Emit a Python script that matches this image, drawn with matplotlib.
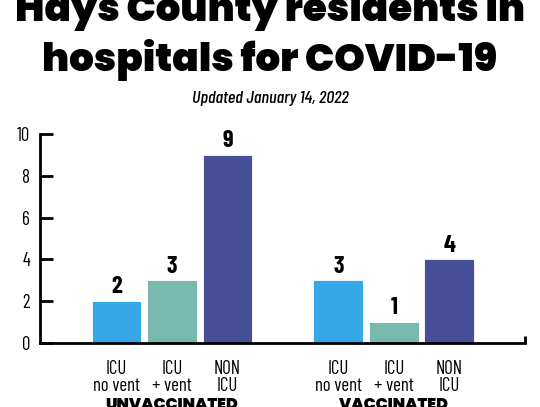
import matplotlib
matplotlib.use("Agg")
import matplotlib.pyplot as plt

# data
groups = ["UNVACCINATED", "VACCINATED"]
categories = ["ICU\nno vent", "ICU\n+ vent", "NON\nICU"]
unvaccinated = [2, 3, 9]
vaccinated = [3, 1, 4]
colors = ["#36A8E8", "#78B8AE", "#474E98"]

cond = ["Barlow Condensed", "DejaVu Sans"]
heavy = ["Poppins", "DejaVu Sans"]

fig = plt.figure(figsize=(5.4, 4.07), dpi=100)
ax = fig.add_axes([0.074, 0.157, 0.898, 0.514])

pos_u = [0, 1, 2]
pos_v = [4, 5, 6]
for pos, vals in [(pos_u, unvaccinated), (pos_v, vaccinated)]:
    bars = ax.bar(pos, vals, width=0.9, color=colors, edgecolor="white", linewidth=0.6)
    for b, v in zip(bars, vals):
        ax.annotate(str(v), (b.get_x() + b.get_width() / 2, v), xytext=(0, 2),
                    textcoords="offset points", ha="center", va="bottom",
                    fontsize=17.5, fontweight="bold", family=cond)

ax.set_xlim(-1.38, 7.36)
ax.set_ylim(0, 10)
ax.set_yticks([0, 2, 4, 6, 8, 10])
ax.set_xticks(pos_u + pos_v)
ax.set_xticklabels(categories * 2, family=cond, fontsize=13.5, linespacing=0.95)
ax.set_xticks([7.36], minor=True)
for lab in ax.get_yticklabels():
    lab.set_family(cond)
    lab.set_fontsize(13.5)

ax.tick_params(axis="x", which="major", length=0, pad=12)
ax.tick_params(axis="x", which="minor", direction="in", length=5, width=2)
ax.tick_params(axis="y", direction="in", length=9, width=2, pad=7)
for s in ["top", "right"]:
    ax.spines[s].set_visible(False)
for s in ["left", "bottom"]:
    ax.spines[s].set_linewidth(2)

for g, pos in zip(groups, [pos_u, pos_v]):
    xc = ax.transData.transform((sum(pos) / len(pos), 0))[0] / fig.bbox.width
    fig.text(xc, 0.024, g, ha="center", va="top", fontsize=11.5, fontweight="black", family=heavy)

fig.text(0.5, 0.948, "Hays County residents in", ha="center", va="baseline",
         fontsize=28, fontweight="black", family=heavy)
fig.text(0.5, 0.826, "hospitals for COVID-19", ha="center", va="baseline",
         fontsize=28, fontweight="black", family=heavy)
fig.text(0.5, 0.747, "Updated January 14, 2022", ha="center", va="baseline",
         fontsize=13, style="italic", fontweight="medium", family=cond)

fig.savefig("out.png", dpi=100)
